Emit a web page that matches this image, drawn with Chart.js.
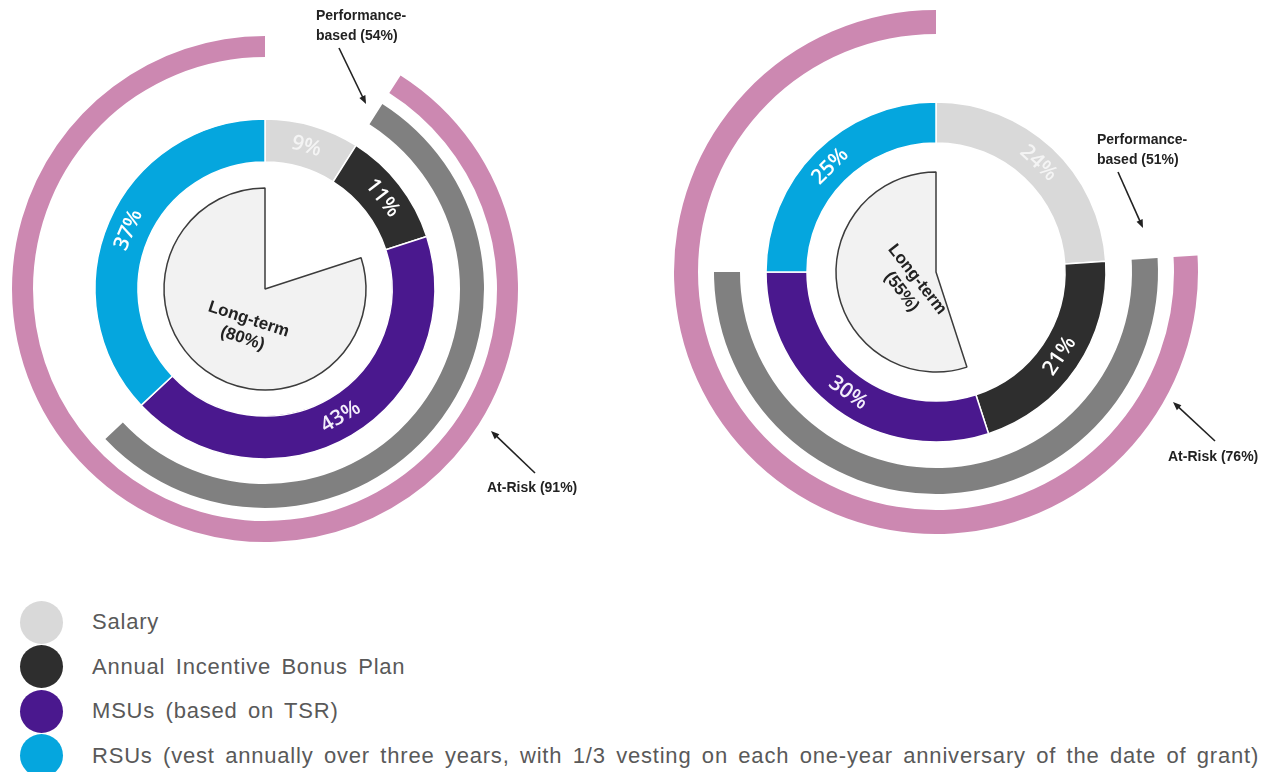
<!DOCTYPE html>
<html>
<head>
<meta charset="utf-8">
<script src="https://cdn.jsdelivr.net/npm/chart.js@4.4.0/dist/chart.umd.min.js"></script>
<style>
  body { margin: 0; background: #fff; width: 1273px; height: 772px; overflow: hidden; position: relative; }
  canvas { position: absolute; top: 0; }
  #payLeft { left: 0; }
  #payRight { left: 636px; }
  .row { position: absolute; left: 20px; height: 44px; display: flex; align-items: center; white-space: nowrap; }
  .dot { width: 43px; height: 43px; border-radius: 50%; flex: none; }
  .txt { margin-left: 29px; font: 22px "Liberation Sans", Arial, sans-serif; letter-spacing: 0.8px; word-spacing: 3.5px; color: #595959; }
</style>
</head>
<body>
<canvas id="payLeft" width="636" height="578"></canvas>
<canvas id="payRight" width="637" height="578"></canvas>
<div id="legend"></div>

<script>
const categories = [
    'Salary',
    'Annual Incentive Bonus Plan',
    'MSUs (based on TSR)',
    'RSUs (vest annually over three years, with 1/3 vesting on each one-year anniversary of the date of grant)'
];
const colors = ['#d9d9d9', '#2e2e2e', '#4a188e', '#05a6de'];

// pay mix by component, in %
const mixLeft = [9, 11, 43, 37];
const mixRight = [24, 21, 30, 25];

// outer bands: [salary, performance-based, rsu] and [salary, at-risk]
const perfLeft = [9, 54, 37];
const perfRight = [24, 51, 25];
const riskLeft = [9, 91];
const riskRight = [24, 76];

// inner pie: [short-term, long-term]
const longLeft = [20, 80];
const longRight = [45, 55];

const clear = 'rgba(0,0,0,0)';
const deg = Math.PI / 180;

// percentage text along the ring, and the long-term text in the pie
const ringText = {
    id: 'ringText',
    afterDatasetsDraw(chart) {
        const ctx = chart.ctx;
        chart.data.datasets.forEach((ds, i) => {
            if (!ds.valueText && !ds.sliceText) return;
            chart.getDatasetMeta(i).data.forEach((arc, j) => {
                const p = arc.getProps(['x', 'y', 'startAngle', 'endAngle', 'innerRadius', 'outerRadius'], true);
                let mid = (p.startAngle + p.endAngle) / 2;
                let lines, r, font, color, tilt = 0, lh = 20;
                if (ds.valueText) {
                    lines = [ds.data[j] + '%'];
                    r = (p.innerRadius + p.outerRadius) / 2;
                    font = '600 21px "Open Sans"';
                    color = ds.valueText[j];
                } else {
                    const s = ds.sliceText;
                    if (j !== s.index) return;
                    lines = s.lines;
                    mid += s.shift * deg;
                    r = p.outerRadius * s.radial;
                    tilt = s.tilt * deg;
                    font = 'bold 17px "Liberation Sans"';
                    color = '#222';
                }
                let rot = mid + Math.PI / 2;
                rot = Math.atan2(Math.sin(rot), Math.cos(rot));
                if (rot > Math.PI / 2) rot -= Math.PI;
                if (rot < -Math.PI / 2) rot += Math.PI;
                ctx.save();
                ctx.translate(p.x + Math.cos(mid) * r, p.y + Math.sin(mid) * r);
                ctx.rotate(rot + tilt);
                ctx.font = font;
                ctx.fillStyle = color;
                ctx.textAlign = 'center';
                ctx.textBaseline = 'middle';
                lines.forEach((t, k) => ctx.fillText(t, 0, (k - (lines.length - 1) / 2) * lh));
                ctx.restore();
            });
        });
    }
};

// annotation text with arrows, offsets are from the donut centre
const callouts = {
    id: 'callouts',
    afterDraw(chart, args, opts) {
        const arc = chart.getDatasetMeta(0).data[0];
        const cx = arc.x, cy = arc.y;
        const ctx = chart.ctx;
        (opts.items || []).forEach(n => {
            ctx.save();
            ctx.fillStyle = '#222';
            ctx.strokeStyle = '#222';
            ctx.font = 'bold 14px "Liberation Sans"';
            ctx.textBaseline = 'middle';
            n.lines.forEach((t, k) => ctx.fillText(t, cx + n.text[0], cy + n.text[1] + k * (n.gap || 0)));
            const x1 = cx + n.from[0], y1 = cy + n.from[1];
            const x2 = cx + n.to[0], y2 = cy + n.to[1];
            const a = Math.atan2(y2 - y1, x2 - x1);
            ctx.lineWidth = 1.6;
            ctx.beginPath();
            ctx.moveTo(x1, y1);
            ctx.lineTo(x2 - 5 * Math.cos(a), y2 - 5 * Math.sin(a));
            ctx.stroke();
            ctx.beginPath();
            ctx.moveTo(x2, y2);
            ctx.lineTo(x2 - 9 * Math.cos(a - 0.38), y2 - 9 * Math.sin(a - 0.38));
            ctx.lineTo(x2 - 9 * Math.cos(a + 0.38), y2 - 9 * Math.sin(a + 0.38));
            ctx.closePath();
            ctx.fill();
            ctx.restore();
        });
    }
};

function payDonut(id, mix, perf, risk, longTerm, ring, padding, pieText, notes) {
    return new Chart(document.getElementById(id), {
        type: 'doughnut',
        data: {
            datasets: [
                { data: risk, backgroundColor: [clear, '#cc88b1'], borderWidth: 0, weight: ring.pink },
                { data: [1], backgroundColor: clear, borderWidth: 0, weight: ring.gap1 },
                { data: perf, backgroundColor: [clear, '#808080', clear], borderWidth: 0, weight: ring.gray },
                { data: [1], backgroundColor: clear, borderWidth: 0, weight: ring.gap2 },
                {
                    data: mix, backgroundColor: colors, borderColor: '#fff', borderWidth: 1.5,
                    weight: ring.main, valueText: ['#f4f4f4', '#fff', '#f3eefb', '#fff']
                },
                { data: [1], backgroundColor: clear, borderWidth: 0, weight: ring.gap3 },
                {
                    data: longTerm, backgroundColor: [clear, '#f2f2f2'], borderColor: [clear, '#3c3c3c'],
                    borderWidth: [0, 1.5], weight: ring.pie,
                    sliceText: Object.assign({ index: 1, lines: ['Long-term', '(' + longTerm[1] + '%)'] }, pieText)
                }
            ]
        },
        options: {
            responsive: false,
            animation: false,
            events: [],
            radius: ring.outer,
            cutout: 0,
            layout: { padding: padding },
            plugins: {
                legend: { display: false },
                tooltip: { enabled: false },
                callouts: { items: notes }
            }
        },
        plugins: [ringText, callouts]
    });
}

payDonut('payLeft', mixLeft, perfLeft, riskLeft, longLeft,
    { outer: 253, pink: 21, gap1: 13, gray: 24, gap2: 25, main: 43, gap3: 26, pie: 101 },
    { right: 106 },
    { radial: 0.44, shift: -10, tilt: -8 },
    [
        { lines: ['Performance-', 'based (' + perfLeft[1] + '%)'], text: [51, -273], gap: 20, from: [74, -241], to: [101, -185] },
        { lines: ['At-Risk (' + riskLeft[1] + '%)'], text: [222, 199], from: [270, 184], to: [226, 142] }
    ]);

payDonut('payRight', mixRight, perfRight, riskRight, longRight,
    { outer: 262, pink: 24, gap1: 16, gray: 26, gap2: 26, main: 41, gap3: 29, pie: 100 },
    { right: 37, bottom: 34 },
    { radial: 0.3, shift: -18, tilt: -11 },
    [
        { lines: ['Performance-', 'based (' + perfRight[1] + '%)'], text: [161, -132], gap: 20, from: [182, -100], to: [207, -44] },
        { lines: ['At-Risk (' + riskRight[1] + '%)'], text: [232, 185], from: [279, 169], to: [237, 130] }
    ]);

// legend rows
const legend = document.getElementById('legend');
categories.forEach((name, i) => {
    const row = document.createElement('div');
    row.className = 'row';
    row.style.top = (600 + i * 44.5) + 'px';
    row.innerHTML = '<span class="dot" style="background:' + colors[i] + '"></span><span class="txt">' + name + '</span>';
    legend.appendChild(row);
});
</script>
</body>
</html>
